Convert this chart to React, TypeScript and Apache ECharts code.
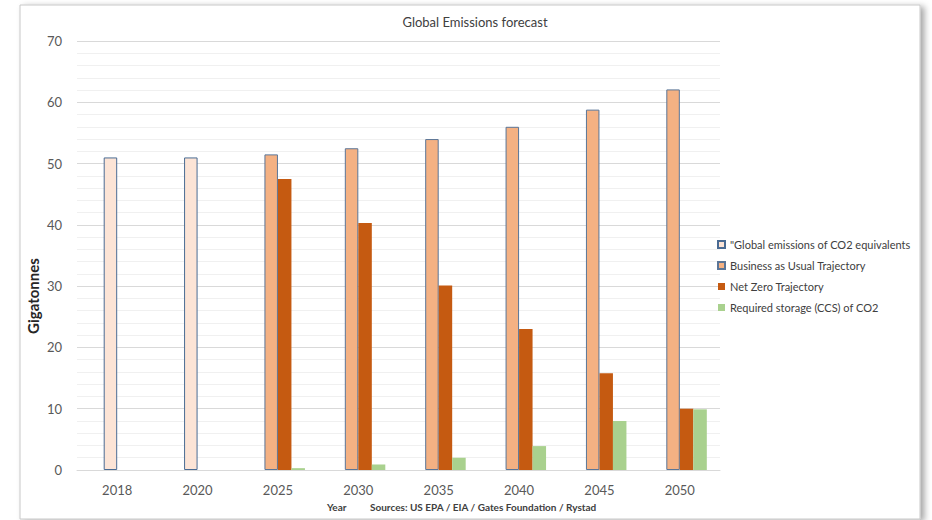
import React, { useEffect, useRef } from "react";
import * as echarts from "echarts";

const years = ["2018", "2020", "2025", "2030", "2035", "2040", "2045", "2050"];
const globalEmissions = [51, 51, null, null, null, null, null, null];
const businessAsUsual = [null, null, 51.5, 52.5, 54, 56, 58.8, 62.1];
const netZero = [null, null, 47.5, 40.3, 30.1, 23, 15.8, 10];
const ccsStorage = [null, null, 0.3, 0.9, 2, 3.9, 8, 9.9];
const emptySlot = [null, null, null, null, null, null, null, null];

const seriesNames = [
  '"Global emissions of CO2 equivalents',
  "Business as Usual Trajectory",
  "Net Zero Trajectory",
  "Required storage (CCS) of CO2",
];

const FONT = "Lato, 'Liberation Sans', sans-serif";

export default function App() {
  const ref = useRef<HTMLDivElement>(null);

  useEffect(() => {
    if (!ref.current) return;
    const chart = echarts.init(ref.current, undefined, { renderer: "svg" });
    const toData = (arr: (number | null)[]) => arr.map((v) => (v == null ? "-" : v));
    const barBase = { type: "bar" as const, barWidth: 13.5, barGap: "0%" };

    chart.setOption({
      animation: false,
      backgroundColor: "#ffffff",
      textStyle: { fontFamily: FONT },
      title: {
        text: "Global Emissions forecast",
        left: 470,
        top: 10,
        textAlign: "center",
        textStyle: { fontFamily: FONT, fontSize: 13, fontWeight: "normal", color: "#404040" },
      },
      legend: {
        data: seriesNames,
        orient: "vertical",
        left: 712,
        top: 233,
        itemWidth: 7,
        itemHeight: 7,
        itemGap: 8,
        icon: "rect",
        textStyle: { fontFamily: FONT, fontSize: 11, color: "#404040", lineHeight: 13 },
      },
      grid: { left: 77, right: 212, top: 41, bottom: 50 },
      xAxis: {
        type: "category",
        data: years,
        axisTick: { show: false },
        axisLine: { lineStyle: { color: "#d9d9d9", width: 1 } },
        axisLabel: { fontFamily: FONT, fontSize: 13, color: "#595959", margin: 13 },
      },
      yAxis: {
        type: "value",
        min: 0,
        max: 70,
        interval: 10,
        axisLine: { show: false },
        axisTick: { show: false },
        axisLabel: { fontFamily: FONT, fontSize: 13, color: "#595959", margin: 15 },
        splitLine: { lineStyle: { color: "#d9d9d9", width: 1 } },
        minorTick: { show: false, splitNumber: 5 },
        minorSplitLine: { show: true, lineStyle: { color: "#f0f0f0", width: 1 } },
      },
      graphic: [
        {
          type: "rect",
          z: -10,
          silent: true,
          shape: { x: 20, y: 5, width: 900, height: 514 },
          style: {
            fill: "#ffffff",
            stroke: "#c8c8c8",
            lineWidth: 1,
            shadowBlur: 6,
            shadowOffsetX: 4,
            shadowOffsetY: 2,
            shadowColor: "rgba(0,0,0,0.35)",
          },
        },
        {
          type: "text",
          x: 33,
          y: 296,
          rotation: Math.PI / 2,
          style: {
            text: "Gigatonnes",
            font: `bold 15px ${FONT}`,
            fill: "#262626",
            align: "center",
            verticalAlign: "middle",
          },
        },
        {
          type: "text",
          x: 327,
          y: 507,
          style: {
            text: "Year",
            font: `bold 10px ${FONT}`,
            fill: "#404040",
            verticalAlign: "middle",
          },
        },
        {
          type: "text",
          x: 370,
          y: 507,
          style: {
            text: "Sources: US EPA / EIA / Gates Foundation / Rystad",
            font: `bold 10px ${FONT}`,
            fill: "#404040",
            verticalAlign: "middle",
          },
        },
      ],
      series: [
        // keeps the first slot of each cluster empty
        { ...barBase, name: "slot", data: toData(emptySlot), silent: true },
        {
          ...barBase,
          name: seriesNames[0],
          stack: "emissions",
          data: toData(globalEmissions),
          itemStyle: { color: "#FCE4D6", borderColor: "#4A6B93", borderWidth: 1 },
        },
        {
          ...barBase,
          name: seriesNames[1],
          stack: "emissions",
          data: toData(businessAsUsual),
          itemStyle: { color: "#F4B183", borderColor: "#5A7597", borderWidth: 1 },
        },
        {
          ...barBase,
          name: seriesNames[2],
          data: toData(netZero),
          itemStyle: { color: "#C55A11" },
        },
        {
          ...barBase,
          name: seriesNames[3],
          data: toData(ccsStorage),
          itemStyle: { color: "#A9D18E" },
        },
      ],
    });

    return () => chart.dispose();
  }, []);

  return (
    <div
      ref={ref}
      style={{ position: "fixed", left: 0, top: 0, width: 932, height: 520 }}
    />
  );
}
